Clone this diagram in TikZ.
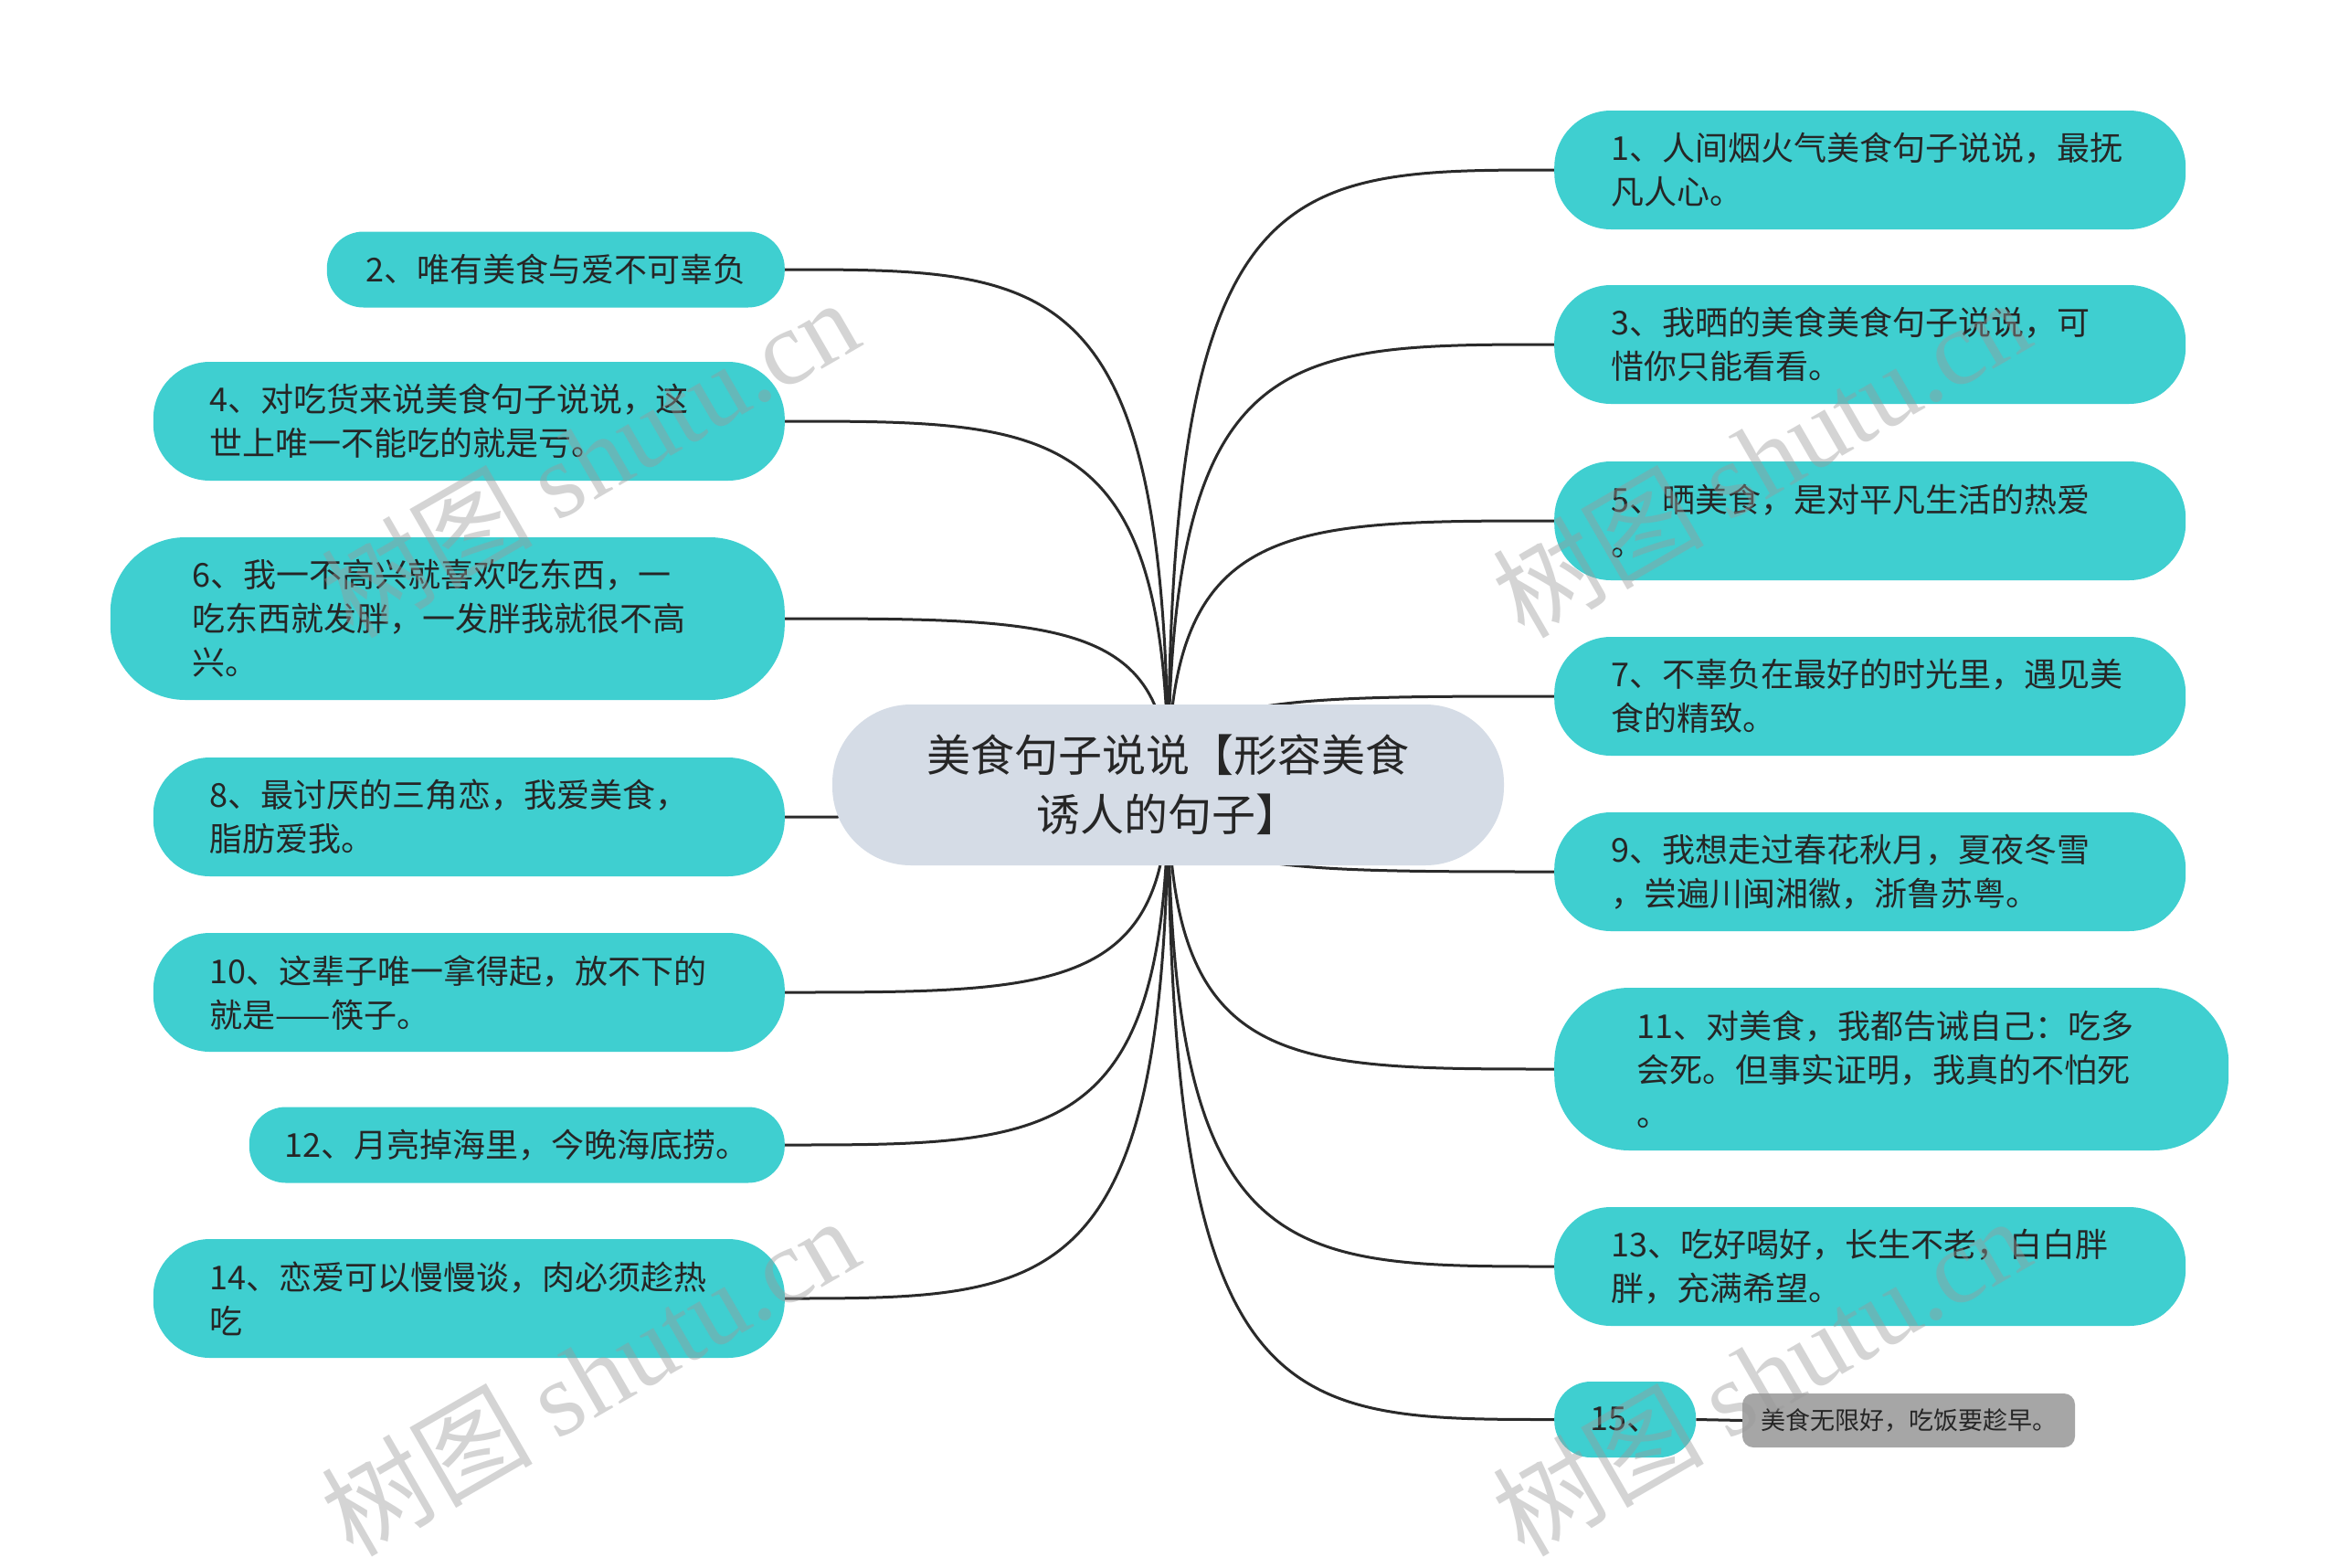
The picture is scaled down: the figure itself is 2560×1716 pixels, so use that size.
\documentclass[tikz,border=0pt]{standalone}
\usepackage{fontspec}
\setmainfont{Noto Sans CJK SC}
\newfontfamily\wmserif{Liberation Serif}
\usetikzlibrary{calc,backgrounds}
\definecolor{leafteal}{HTML}{3FCFD0}
\definecolor{rootfill}{HTML}{D5DCE6}
\definecolor{txtdark}{HTML}{262626}
\definecolor{edgecol}{HTML}{2A2A2A}
\definecolor{notegray}{HTML}{A6A6A6}
\definecolor{wmgray}{HTML}{9A9A9A}
\newcommand{\linkright}[1]{\draw[edgeline] (root.center) .. controls ($(root.center |- #1.west)$) and ($(root.center |- #1.west)+(125,0)$) .. (#1.west);}
\newcommand{\linkleft}[1]{\draw[edgeline] (root.center) .. controls ($(root.center |- #1.east)$) and ($(root.center |- #1.east)+(-125,0)$) .. (#1.east);}
\begin{document}
\begin{tikzpicture}[x=1pt,y=-1pt,
  leafbase/.style={fill=leafteal, text=txtdark, inner ysep=0pt, font=\fontsize{36}{48}\selectfont},
  leafml/.style={leafbase, rounded corners=62pt, minimum height=130pt, align=left, text width=567pt, inner xsep=62pt},
  leafbig/.style={leafbase, rounded corners=82pt, minimum height=178pt, align=left, text width=558pt, inner xsep=90pt},
  leafone/.style={leafbase, rounded corners=40pt, minimum height=83pt, align=center, inner xsep=10pt},
  rootbox/.style={fill=rootfill, text=txtdark, rounded corners=86pt, minimum width=735pt, minimum height=176pt, align=center, font=\fontsize{48}{65}\selectfont},
  notebox/.style={fill=notegray, text=txtdark, rounded corners=12pt, minimum width=364pt, minimum height=59pt, inner xsep=8pt, font=\fontsize{27}{32}\selectfont},
  edgeline/.style={draw=edgecol, line width=3pt},
  wmark/.style={text=wmgray, opacity=0.42, rotate=30, font=\fontsize{116}{116}\selectfont}
]
\useasboundingbox (0,0) rectangle (2560,1716);

% root
\node[rootbox] (root) at (1278.5,859) {美食句子说说【形容美食\\诱人的句子】};

% right side
\node[leafml, anchor=west] (n1) at (1701,186) {1、人间烟火气美食句子说说，最抚\\凡人心。};
\node[leafml, anchor=west] (n3) at (1701,377) {3、我晒的美食美食句子说说，可\\惜你只能看看。};
\node[leafml, anchor=west] (n5) at (1701,570) {5、晒美食，是对平凡生活的热爱\\。};
\node[leafml, anchor=west] (n7) at (1701,762) {7、不辜负在最好的时光里，遇见美\\食的精致。};
\node[leafml, anchor=west] (n9) at (1701,954) {9、我想走过春花秋月，夏夜冬雪\\，尝遍川闽湘徽，浙鲁苏粤。};
\node[leafbig, anchor=west] (n11) at (1701,1170) {11、对美食，我都告诫自己：吃多\\会死。但事实证明，我真的不怕死\\。};
\node[leafml, anchor=west] (n13) at (1701,1386) {13、吃好喝好，长生不老，白白胖\\胖，充满希望。};
\node[leafone, anchor=west, minimum width=155pt] (n15) at (1701,1553.5) {15、};
\node[notebox] (note15) at (2089,1554.5) {美食无限好，吃饭要趁早。};

% left side
\node[leafone, anchor=east, minimum width=501pt] (n2) at (859,295) {2、唯有美食与爱不可辜负};
\node[leafml, anchor=east] (n4) at (859,461) {4、对吃货来说美食句子说说，这\\世上唯一不能吃的就是亏。};
\node[leafbig, anchor=east] (n6) at (859,677) {6、我一不高兴就喜欢吃东西，一\\吃东西就发胖，一发胖我就很不高\\兴。};
\node[leafml, anchor=east] (n8) at (859,894) {8、最讨厌的三角恋，我爱美食，\\脂肪爱我。};
\node[leafml, anchor=east] (n10) at (859,1086) {10、这辈子唯一拿得起，放不下的\\就是——筷子。};
\node[leafone, anchor=east, minimum width=586pt] (n12) at (859,1253) {12、月亮掉海里，今晚海底捞。};
\node[leafml, anchor=east] (n14) at (859,1421) {14、恋爱可以慢慢谈，肉必须趁热\\吃};

\begin{scope}[on background layer]
  \fill[white] (0,0) rectangle (2560,1716);
  \linkright{n1}
  \linkright{n3}
  \linkright{n5}
  \linkright{n7}
  \linkright{n9}
  \linkright{n11}
  \linkright{n13}
  \linkright{n15}
  \linkleft{n2}
  \linkleft{n4}
  \linkleft{n6}
  \linkleft{n8}
  \linkleft{n10}
  \linkleft{n12}
  \linkleft{n14}
  \draw[edgeline] (n15.east) -- (note15.west);
\end{scope}

% watermarks
\node[wmark] (wm1) at (645,500) {树图 {\wmserif shutu.cn}};
\node[wmark] (wm2) at (1927,500) {树图 {\wmserif shutu.cn}};
\node[wmark] (wm3) at (645,1505) {树图 {\wmserif shutu.cn}};
\node[wmark] (wm4) at (1927,1505) {树图 {\wmserif shutu.cn}};
\end{tikzpicture}
\end{document}
